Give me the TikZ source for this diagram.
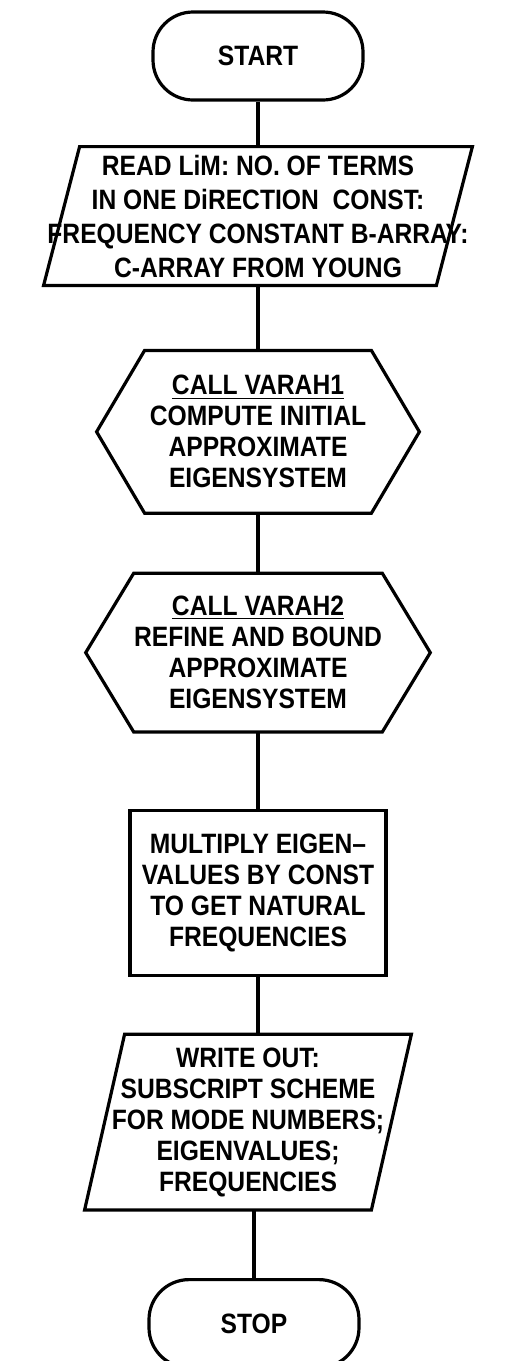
\documentclass[tikz,border=0pt]{standalone}
\usepackage{fontspec}
\newfontfamily\flowfont{Liberation Sans}[FakeStretch=0.88]
\usetikzlibrary{positioning}

\begin{document}
\begin{tikzpicture}[
		every node/.style={font=\flowfont\bfseries\fontsize{14}{15.5}\selectfont, align=center, inner sep=0pt},
		flow/.style={line width=1.6pt},
		terminal/.style={flow, draw, rectangle, rounded corners=20pt, minimum width=105pt, minimum height=44pt},
		process/.style={flow, draw, rectangle, minimum width=128pt, minimum height=82.5pt},
		iobox/.style={rectangle, minimum height=#1},
		callbox/.style={rectangle, minimum width=113pt, minimum height=#1}
		]
		\useasboundingbox (0,0) rectangle (252pt,-680.5pt);
		\node [terminal] (start) at (129pt,-28pt) {START};
		\node [iobox=69pt, minimum width=196pt] (read) [below=22.5pt of start] {};
		\node [font=\flowfont\bfseries\fontsize{14}{17}\selectfont] at (read) {READ LiM: NO. OF TERMS\\IN ONE DiRECTION\ \ CONST:\\FREQUENCY CONSTANT B-ARRAY:\\C-ARRAY FROM YOUNG};
		\node [callbox=81pt] (varah1) [below=32.5pt of read] {\underline{CALL VARAH1}\\COMPUTE INITIAL\\APPROXIMATE\\EIGENSYSTEM};
		\node [callbox=79pt] (varah2) [below=30pt of varah1] {\underline{CALL VARAH2}\\REFINE AND BOUND\\APPROXIMATE\\EIGENSYSTEM};
		\node [process] (multiply) [below=38.5pt of varah2] {MULTIPLY EIGEN\textendash\\VALUES BY CONST\\TO GET NATURAL\\FREQUENCIES};
		\node [iobox=87.5pt, minimum width=143pt] (write) [below=28.5pt of multiply, xshift=-5pt] {WRITE OUT:\\SUBSCRIPT SCHEME\\FOR MODE NUMBERS;\\EIGENVALUES;\\FREQUENCIES};
		\node [terminal] (stop) [below=34pt of write, xshift=3pt] {STOP};

		% hexagon outlines
		\foreach \h in {varah1, varah2}
			\draw [flow] (\h.north west) -- (\h.north east) -- ([xshift=24pt]\h.east) -- (\h.south east)
				-- (\h.south west) -- ([xshift=-24pt]\h.west) -- cycle;
		% parallelogram outlines
		\foreach \p/\s in {read/18pt, write/20pt}
			\draw [flow] ([xshift=\s/2]\p.north west) -- ([xshift=\s/2]\p.north east)
				-- ([xshift=-\s/2]\p.south east) -- ([xshift=-\s/2]\p.south west) -- cycle;

		\draw [flow] (start) -- (read);
		\draw [flow] (read) -- (varah1);
		\draw [flow] (varah1) -- (varah2);
		\draw [flow] (varah2) -- (multiply);
		\draw [flow] (multiply.south) -- (multiply.south |- write.north);
		\draw [flow] (write.south -| stop.north) -- (stop);
	\end{tikzpicture}
\end{document}
